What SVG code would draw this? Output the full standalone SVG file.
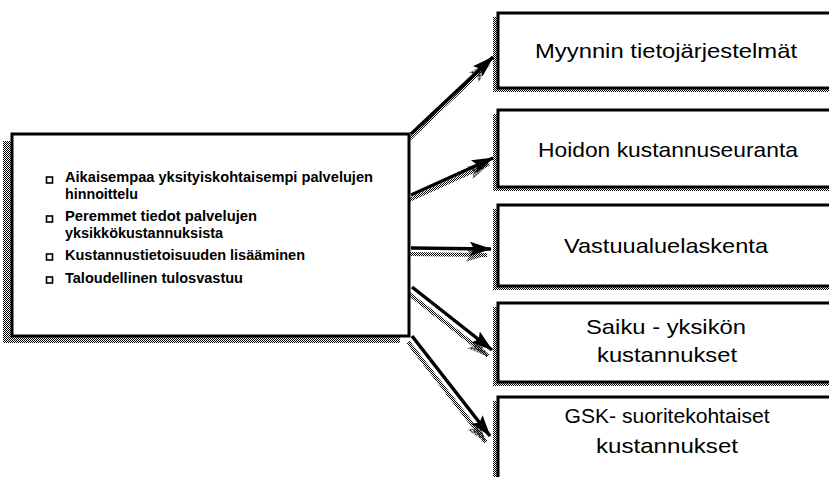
<svg xmlns="http://www.w3.org/2000/svg" width="829" height="477" viewBox="0 0 829 477">
<defs>
<pattern id="dots" width="2" height="2" patternUnits="userSpaceOnUse">
<rect x="0" y="0" width="1" height="1" fill="#000"/>
<rect x="1" y="1" width="1" height="1" fill="#000"/>
</pattern>
<marker id="ah" markerUnits="userSpaceOnUse" markerWidth="22" markerHeight="14" refX="21" refY="7" orient="auto">
<path d="M0,0 L22,7 L0,14 L4,7 z" fill="#000"/>
</marker>
<marker id="ahs" markerUnits="userSpaceOnUse" markerWidth="22" markerHeight="14" refX="21" refY="7" orient="auto">
<path d="M0,0 L22,7 L0,14 L4,7 z" fill="url(#dots)"/>
</marker>
</defs>
<style>
.shadow{fill:url(#dots);stroke:none}
.box{fill:#fff;stroke:#000;stroke-width:3}
.t{font-family:"Liberation Sans",Arial,sans-serif;font-size:21px;fill:#000;text-anchor:middle}
.b{font-family:"Liberation Sans",Arial,sans-serif;font-size:14px;font-weight:bold;fill:#000}
.bul{fill:#fff;stroke:#000;stroke-width:1.6}
.conn{stroke:#000;stroke-width:3.5;fill:none;marker-end:url(#ah)}
.conns{stroke:url(#dots);stroke-width:4;fill:none;marker-end:url(#ahs)}
</style>
<rect width="829" height="477" fill="#fff"/>

<g id="connectors-shadow">
<line class="conns" x1="407" y1="141" x2="489" y2="63"/>
<line class="conns" x1="407" y1="201" x2="489" y2="164"/>
<line class="conns" x1="407" y1="254" x2="487" y2="255"/>
<line class="conns" x1="408" y1="293" x2="488" y2="356"/>
<line class="conns" x1="408" y1="342" x2="486" y2="442"/>
</g>

<g id="source">
<rect class="shadow" x="3" y="141" width="397" height="202"/>
<rect class="box" x="12" y="134" width="397" height="202"/>
<rect class="bul" x="46.5" y="177" width="6" height="6"/>
<text class="b" x="65" y="182" textLength="308" lengthAdjust="spacingAndGlyphs">Aikaisempaa yksityiskohtaisempi palvelujen</text>
<text class="b" x="65" y="199" textLength="73" lengthAdjust="spacingAndGlyphs">hinnoittelu</text>
<rect class="bul" x="46.5" y="216" width="6" height="6"/>
<text class="b" x="65" y="221" textLength="192" lengthAdjust="spacingAndGlyphs">Peremmet tiedot palvelujen</text>
<text class="b" x="65" y="238" textLength="158" lengthAdjust="spacingAndGlyphs">yksikkökustannuksista</text>
<rect class="bul" x="46.5" y="254" width="6" height="6"/>
<text class="b" x="65" y="260" textLength="240" lengthAdjust="spacingAndGlyphs">Kustannustietoisuuden lisääminen</text>
<rect class="bul" x="46.5" y="277" width="6" height="6"/>
<text class="b" x="65" y="283" textLength="178" lengthAdjust="spacingAndGlyphs">Taloudellinen tulosvastuu</text>
</g>

<g id="connectors">
<line class="conn" x1="411" y1="134" x2="493" y2="57"/>
<line class="conn" x1="411" y1="195" x2="493" y2="158"/>
<line class="conn" x1="411" y1="248" x2="491" y2="249"/>
<line class="conn" x1="412" y1="287" x2="492" y2="350"/>
<line class="conn" x1="412" y1="336" x2="490" y2="436"/>
</g>

<g id="n1">
<rect class="shadow" x="493" y="17" width="345" height="75"/>
<rect class="box" x="498" y="13" width="345" height="75"/>
<text class="t" x="666" y="58" textLength="262" lengthAdjust="spacingAndGlyphs">Myynnin  tietojärjestelmät</text>
</g>
<g id="n2">
<rect class="shadow" x="493" y="114" width="345" height="77"/>
<rect class="box" x="498" y="110" width="345" height="77"/>
<text class="t" x="668" y="157" textLength="260" lengthAdjust="spacingAndGlyphs">Hoidon kustannuseuranta</text>
</g>
<g id="n3">
<rect class="shadow" x="493" y="209" width="345" height="81"/>
<rect class="box" x="498" y="205" width="345" height="81"/>
<text class="t" x="666" y="253" textLength="204" lengthAdjust="spacingAndGlyphs">Vastuualuelaskenta</text>
</g>
<g id="n4">
<rect class="shadow" x="493" y="307" width="345" height="79"/>
<rect class="box" x="498" y="303" width="345" height="79"/>
<text class="t" x="666" y="334" textLength="160" lengthAdjust="spacingAndGlyphs">Saiku - yksikön</text>
<text class="t" x="667" y="362" textLength="140" lengthAdjust="spacingAndGlyphs">kustannukset</text>
</g>
<g id="n5">
<rect class="shadow" x="493" y="401" width="345" height="100"/>
<rect class="box" x="498" y="397" width="345" height="100"/>
<text class="t" x="667" y="423" textLength="205" lengthAdjust="spacingAndGlyphs">GSK-  suoritekohtaiset</text>
<text class="t" x="667" y="453" textLength="142" lengthAdjust="spacingAndGlyphs">kustannukset</text>
</g>
</svg>
